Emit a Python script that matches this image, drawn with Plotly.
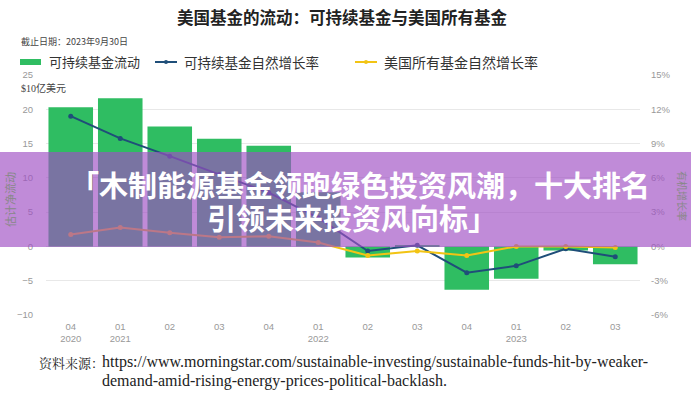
import plotly.graph_objects as go

quarters = ["04<br>2020", "01<br>2021", "02", "03", "04", "01<br>2022", "02", "03",
            "04", "01<br>2023", "02", "03"]
flows = [20.3, 21.6, 17.5, 15.7, 14.7, 7.9, -1.6, 0.2, -6.3, -4.7, -0.6, -2.6]
sust_growth = [11.4, 9.45, 7.9, 6.3, 4.7, 2.5, -0.4, 0.1, -2.3, -1.7, -0.2, -0.9]
all_growth = [1.05, 1.66, 1.2, 0.8, 0.9, 0.35, -0.8, -0.4, -0.8, 0.0, 0.0, -0.1]

left_ticks = [-10, -5, 0, 5, 10, 15, 20, 25]
right_ticks = [-6, -3, 0, 3, 6, 9, 12, 15]

GREEN = "#2fbd62"
BLUE = "#1f4e79"
YELLOW = "#f2c414"
CJK = "Noto Sans CJK SC"

# plot area in pixels
L, R, T, B = 46, 640, 75, 315
W, H = 691, 400


def px(x):
    return (x - L) / (R - L)


def py(y):
    return (B - y) / (B - T)


fig = go.Figure()
fig.add_trace(go.Bar(x=list(range(len(quarters))), y=flows, marker=dict(color=GREEN, line=dict(width=0)),
                     name="可持续基金流动", showlegend=False))
fig.add_trace(go.Scatter(x=list(range(len(quarters))), y=sust_growth, yaxis="y2", mode="lines+markers",
                         line=dict(color=BLUE, width=2), marker=dict(size=5, color=BLUE),
                         name="可持续基金自然增长率", showlegend=False))
fig.add_trace(go.Scatter(x=list(range(len(quarters))), y=all_growth, yaxis="y2", mode="lines+markers",
                         line=dict(color=YELLOW, width=2), marker=dict(size=5, color=YELLOW),
                         name="美国所有基金自然增长率", showlegend=False))

shapes = []
annotations = []

# title and subtitle
annotations.append(dict(text="<b>美国基金的流动：可持续基金与美国所有基金</b>", xref="paper", yref="paper",
                        x=px(342), y=py(17), showarrow=False, xanchor="center", yanchor="middle",
                        font=dict(family=CJK, size=16.5, color="#222")))
annotations.append(dict(text="截止日期：2023年9月30日", xref="paper", yref="paper",
                        x=px(19), y=py(41), showarrow=False, xanchor="left", yanchor="middle",
                        font=dict(family=CJK, size=9, color="#444")))

# legend (manual)
legend_items = [
    ("bar", GREEN, "可持续基金流动", 20, 13),
    ("line", BLUE, "可持续基金自然增长率", 155, 13.5),
    ("line", YELLOW, "美国所有基金自然增长率", 355, 14),
]
ly = 62
for kind, col, label, x0, fs in legend_items:
    if kind == "bar":
        shapes.append(dict(type="rect", xref="paper", yref="paper", x0=px(x0), x1=px(x0 + 21),
                           y0=py(ly + 3), y1=py(ly - 3), fillcolor=col, line=dict(width=0)))
    else:
        shapes.append(dict(type="line", xref="paper", yref="paper", x0=px(x0), x1=px(x0 + 22),
                           y0=py(ly), y1=py(ly), line=dict(color=col, width=2)))
        shapes.append(dict(type="circle", xref="paper", yref="paper", x0=px(x0 + 9), x1=px(x0 + 13),
                           y0=py(ly + 2), y1=py(ly - 2), fillcolor=col, line=dict(width=0)))
    annotations.append(dict(text=label, xref="paper", yref="paper", x=px(x0 + 27), y=py(ly),
                            showarrow=False, xanchor="left", yanchor="middle",
                            font=dict(family=CJK, size=fs, color="#333")))

annotations.append(dict(text="$10亿美元", xref="paper", yref="paper", x=px(19), y=py(88),
                        showarrow=False, xanchor="left", yanchor="middle",
                        font=dict(family="Liberation Serif, " + CJK, size=10, color="#444")))

# axis titles
annotations.append(dict(text="估计净流动", xref="paper", yref="paper", x=px(10), y=py(200),
                        showarrow=False, textangle=-90, xanchor="center", yanchor="middle",
                        font=dict(family=CJK, size=11, color="#888")))
annotations.append(dict(text="有机增长率", xref="paper", yref="paper", x=px(683), y=py(196),
                        showarrow=False, textangle=90, xanchor="center", yanchor="middle",
                        font=dict(family=CJK, size=10, color="#888")))

# source
annotations.append(dict(text="资料来源：", xref="paper", yref="paper", x=px(37), y=py(362),
                        showarrow=False, xanchor="left", yanchor="middle",
                        font=dict(family="Noto Serif CJK SC, " + CJK, size=13, color="#222")))
annotations.append(dict(text="https://www.morningstar.com/sustainable-investing/sustainable-funds-hit-by-weaker-",
                        xref="paper", yref="paper", x=px(100), y=py(362), showarrow=False,
                        xanchor="left", yanchor="middle",
                        font=dict(family="Liberation Serif", size=16, color="#222")))
annotations.append(dict(text="demand-amid-rising-energy-prices-political-backlash.",
                        xref="paper", yref="paper", x=px(100), y=py(381), showarrow=False,
                        xanchor="left", yanchor="middle",
                        font=dict(family="Liberation Serif", size=16, color="#222")))

# overlay banner
shapes.append(dict(type="rect", xref="paper", yref="paper", x0=px(0), x1=px(W), y0=py(152), y1=py(247),
                   fillcolor="rgba(160,79,196,0.66)", line=dict(width=0), layer="above"))
annotations.append(dict(text="<b>「木制能源基金领跑绿色投资风潮，十大排名</b>", xref="paper", yref="paper",
                        x=px(360), y=py(184), showarrow=False, xanchor="center", yanchor="middle",
                        font=dict(family=CJK, size=29, color="white")))
annotations.append(dict(text="<b>引领未来投资风向标」</b>", xref="paper", yref="paper",
                        x=px(352), y=py(217), showarrow=False, xanchor="center", yanchor="middle",
                        font=dict(family=CJK, size=29, color="white")))

fig.update_layout(
    width=W, height=H, autosize=False,
    margin=dict(l=L, r=W - R, t=T, b=H - B),
    plot_bgcolor="white", paper_bgcolor="white",
    bargap=0.1,
    xaxis=dict(tickmode="array", tickvals=list(range(len(quarters))), ticktext=quarters,
               range=[-0.5, len(quarters) - 0.5], showgrid=False, zeroline=False, showline=False,
               tickfont=dict(family="Liberation Sans", size=9.5, color="#999"), ticks="",
               ticklabelstandoff=4),
    yaxis=dict(range=[-10, 25], tickvals=left_ticks, showgrid=True, gridcolor="#e8e8e8",
               zeroline=False, tickfont=dict(family="Liberation Sans", size=9.5, color="#999"),
               ticks="", ticklabelstandoff=12),
    yaxis2=dict(range=[-6, 15], tickvals=right_ticks, ticktext=[f"{v}%" for v in right_ticks],
                overlaying="y", side="right", showgrid=False, zeroline=False,
                tickfont=dict(family="Liberation Sans", size=9.5, color="#999"), ticks="",
                ticklabelstandoff=10),
    shapes=shapes, annotations=annotations,
)

fig.write_html("out.html", post_script="document.body.style.margin='0';",
               config={"displayModeBar": False})
